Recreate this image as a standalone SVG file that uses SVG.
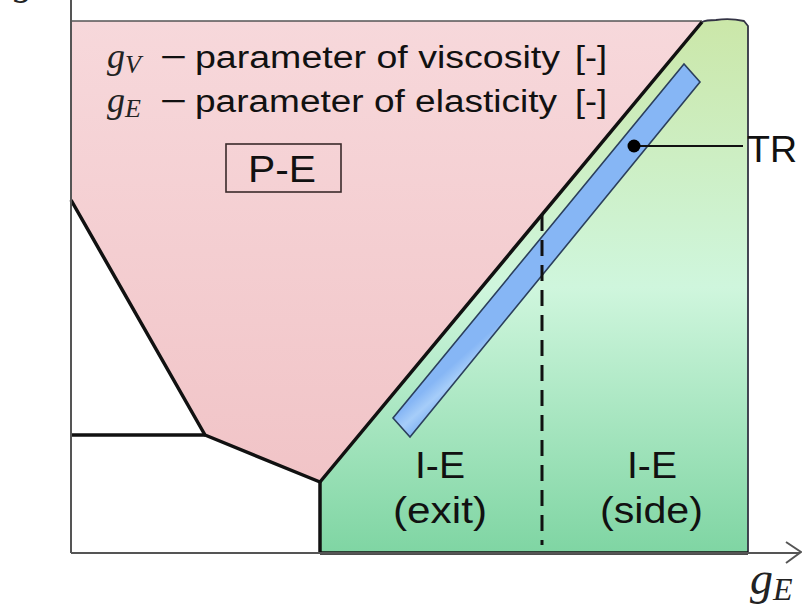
<svg xmlns="http://www.w3.org/2000/svg" width="802" height="611" viewBox="0 0 802 611">
<style>
.t{font-family:"Liberation Sans",Arial,sans-serif;fill:#111}
.m{font-family:"Liberation Serif","Times New Roman",serif;font-style:italic;fill:#222}
.bd{fill:none;stroke:#111;stroke-width:3.5;stroke-linejoin:round}
.ax{fill:none;stroke:#555;stroke-width:2}
</style>
<defs>
<linearGradient id="pink" x1="0" y1="0" x2="0" y2="1">
<stop offset="0" stop-color="#f7d8db"/><stop offset="1" stop-color="#f1c4c7"/>
</linearGradient>
<linearGradient id="green" gradientUnits="userSpaceOnUse" x1="0" y1="22" x2="0" y2="553">
<stop offset="0" stop-color="#cbe7a9"/><stop offset="0.5" stop-color="#cff6dd"/><stop offset="1" stop-color="#7fd5a3"/>
</linearGradient>
<linearGradient id="blue" gradientUnits="userSpaceOnUse" x1="393" y1="418" x2="410" y2="437">
<stop offset="0" stop-color="#86b6f5"/><stop offset="0.5" stop-color="#a6cdf9"/><stop offset="1" stop-color="#86b6f5"/>
</linearGradient>
</defs>
<g id="region-pe">
<polygon points="71,21 702,21 320,482 205,435 71,200" fill="url(#pink)"/>
<line x1="71" y1="21" x2="702" y2="21" stroke="#555" stroke-width="1.5"/>
</g>
<g id="region-ie">
<path d="M320,482 L702,22 Q706,20 716,20 Q730,18 744,21 L748,26 L748,553 L320,553 Z" fill="url(#green)"/>
<path d="M702,22 Q706,20 716,20 Q730,18 744,21 L748,26 L748,553" fill="none" stroke="#334" stroke-width="1.8"/>
</g>
<g id="tr">
<polygon points="393,418 410,437 700,82 684,64" fill="url(#blue)" stroke="#2b3f5c" stroke-width="1.6"/>
</g>
<g id="boundaries">
<polyline class="bd" points="71,200 205,435 320,482 702,22"/>
<line class="bd" x1="71" y1="435" x2="205" y2="435"/>
<line class="bd" x1="320" y1="482" x2="320" y2="553"/>
<line class="bd" x1="320" y1="553" x2="748" y2="553"/>
<line x1="542" y1="215" x2="542" y2="545" stroke="#111" stroke-width="3" stroke-dasharray="16,9"/>
</g>
<g id="axes">
<line class="ax" x1="71" y1="0" x2="71" y2="553"/>
<line class="ax" x1="71" y1="553" x2="800" y2="553"/>
<polyline class="ax" points="786,542 801,552 786,563"/>
<text class="m" x="14" y="-6" font-size="40">g<tspan font-size="28" dy="6">V</tspan></text>
<text class="m" x="750" y="594" font-size="46">g<tspan font-size="32" dy="6">E</tspan></text>
</g>
<g id="legend">
<text class="m" x="107" y="68" font-size="36">g<tspan font-size="26" dy="5">V</tspan></text>
<text class="t" x="160" y="68" font-size="32" textLength="27" lengthAdjust="spacingAndGlyphs">−</text>
<text class="t" x="195" y="68" font-size="31" textLength="365" lengthAdjust="spacingAndGlyphs">parameter of viscosity</text>
<text class="t" x="575" y="68" font-size="31" textLength="32" lengthAdjust="spacingAndGlyphs">[-]</text>
<text class="m" x="107" y="112" font-size="36">g<tspan font-size="26" dy="5">E</tspan></text>
<text class="t" x="160" y="112" font-size="32" textLength="27" lengthAdjust="spacingAndGlyphs">−</text>
<text class="t" x="195" y="112" font-size="31" textLength="362" lengthAdjust="spacingAndGlyphs">parameter of elasticity</text>
<text class="t" x="575" y="112" font-size="31" textLength="32" lengthAdjust="spacingAndGlyphs">[-]</text>
</g>
<g id="pe-label">
<rect x="226" y="144" width="115" height="48" fill="none" stroke="#3a2a2a" stroke-width="1.6"/>
<text class="t" x="248" y="182" font-size="37" textLength="68" lengthAdjust="spacingAndGlyphs">P-E</text>
</g>
<g id="ie-exit">
<text class="t" x="415" y="478" font-size="36" textLength="50" lengthAdjust="spacingAndGlyphs">I-E</text>
<text class="t" x="393" y="523" font-size="36" textLength="94" lengthAdjust="spacingAndGlyphs">(exit)</text>
</g>
<g id="ie-side">
<text class="t" x="627" y="478" font-size="36" textLength="50" lengthAdjust="spacingAndGlyphs">I-E</text>
<text class="t" x="600" y="523" font-size="36" textLength="103" lengthAdjust="spacingAndGlyphs">(side)</text>
</g>
<g id="tr-label">
<line x1="634" y1="146" x2="743" y2="146" stroke="#111" stroke-width="1.8"/>
<circle cx="634" cy="146" r="6.5" fill="#000"/>
<text class="t" x="747" y="162" font-size="36" textLength="50" lengthAdjust="spacingAndGlyphs">TR</text>
</g>
</svg>
